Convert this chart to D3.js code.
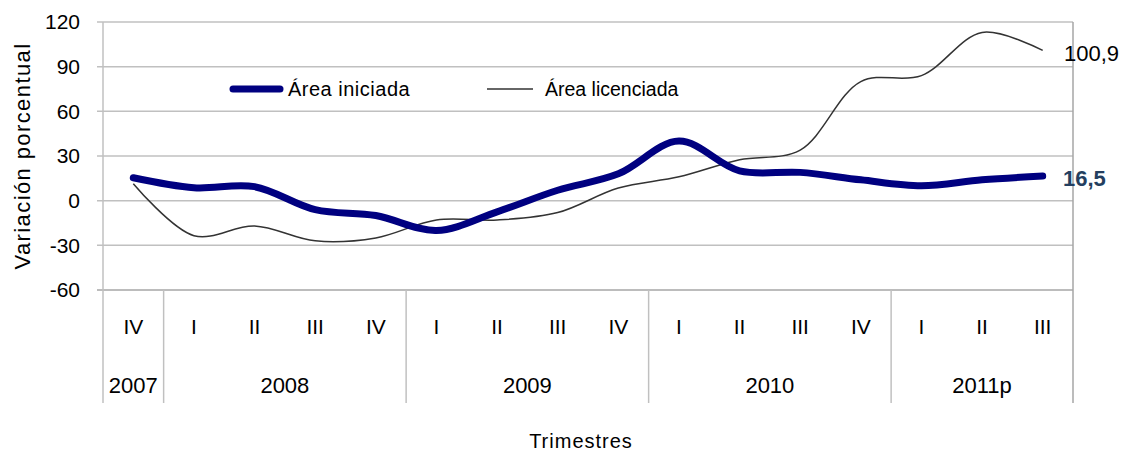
<!DOCTYPE html>
<html>
<head>
<meta charset="utf-8">
<script src="https://cdn.jsdelivr.net/npm/d3@7"></script>
<style>
  body { margin: 0; background: #fff; }
  text { font-family: "Liberation Sans", Arial, sans-serif; fill: #000; }
</style>
</head>
<body>
<div id="chart"></div>
<script>
const width = 1122;
const height = 452;

// trimestres (categoria) y año al que pertenecen
const quarters = ["IV", "I", "II", "III", "IV", "I", "II", "III", "IV", "I", "II", "III", "IV", "I", "II", "III"];
const years = ["2007", "2008", "2008", "2008", "2008", "2009", "2009", "2009", "2009", "2010", "2010", "2010", "2010", "2011p", "2011p", "2011p"];

const areaIniciada = [15.4, 8.7, 9.4, -6, -10, -20, -7.5, 7, 18, 40, 20, 19, 14, 10, 14, 16.5];
const areaLicenciada = [11.4, -23.5, -17, -27, -25, -13, -13, -8, 8.5, 16, 27.5, 34, 80, 84, 113, 100.9];

const yTicks = [-60, -30, 0, 30, 60, 90, 120];

const margin = {left: 103, right: 49, top: 22, bottom: 162};
const x0 = margin.left, x1 = width - margin.right;

const x = d3.scaleBand()
    .domain(d3.range(quarters.length))
    .range([x0, x1]);

const y = d3.scaleLinear()
    .domain([-60, 120])
    .range([290, 22]);

const svg = d3.select("#chart").append("svg")
    .attr("width", width)
    .attr("height", height);

// gridlines
svg.append("g")
  .selectAll("line")
  .data(yTicks)
  .join("line")
    .attr("x1", x0 - 6)
    .attr("x2", x1)
    .attr("y1", d => y(d))
    .attr("y2", d => y(d))
    .attr("stroke", d => d === -60 ? "#a6a6a6" : "#c0c0c0")
    .attr("stroke-width", 1.5);

// y labels
svg.append("g")
  .selectAll("text")
  .data(yTicks)
  .join("text")
    .attr("x", x0 - 23)
    .attr("y", d => y(d))
    .attr("dy", "0.35em")
    .attr("text-anchor", "end")
    .attr("font-size", 21)
    .text(d => d);

// borders: left axis + right
svg.append("line")
    .attr("x1", x0).attr("x2", x0)
    .attr("y1", 22).attr("y2", 403)
    .attr("stroke", "#c0c0c0").attr("stroke-width", 1.5);
svg.append("line")
    .attr("x1", x1).attr("x2", x1)
    .attr("y1", 22).attr("y2", 403)
    .attr("stroke", "#a6a6a6").attr("stroke-width", 1.5);

// year separators
const yearGroups = d3.groups(d3.range(years.length), i => years[i]);
const seps = yearGroups.slice(0, -1).map(g => x(g[1][g[1].length - 1]) + x.bandwidth());
svg.append("g")
  .selectAll("line")
  .data(seps)
  .join("line")
    .attr("x1", d => d).attr("x2", d => d)
    .attr("y1", 290).attr("y2", 403)
    .attr("stroke", "#c0c0c0").attr("stroke-width", 1.5);

// quarter labels
svg.append("g")
  .selectAll("text")
  .data(quarters)
  .join("text")
    .attr("x", (d, i) => x(i) + x.bandwidth() / 2)
    .attr("y", 327)
    .attr("dy", "0.35em")
    .attr("text-anchor", "middle")
    .attr("font-size", 21)
    .text(d => d);

// year labels
svg.append("g")
  .selectAll("text")
  .data(yearGroups)
  .join("text")
    .attr("x", g => (x(g[1][0]) + x(g[1][g[1].length - 1]) + x.bandwidth()) / 2)
    .attr("y", 385)
    .attr("dy", "0.35em")
    .attr("text-anchor", "middle")
    .attr("font-size", 22)
    .text(g => g[0]);

// axis titles
svg.append("text")
    .attr("x", 581).attr("y", 441)
    .attr("dy", "0.35em")
    .attr("text-anchor", "middle")
    .attr("font-size", 20)
    .attr("letter-spacing", 1)
    .text("Trimestres");
svg.append("text")
    .attr("transform", "translate(22,156) rotate(-90)")
    .attr("dy", "0.35em")
    .attr("text-anchor", "middle")
    .attr("font-size", 22)
    .attr("letter-spacing", 1.4)
    .text("Variación porcentual");

// series
const line = d3.line()
    .x((d, i) => x(i) + x.bandwidth() / 2)
    .y(d => y(d))
    .curve(d3.curveCatmullRom.alpha(0.5));

svg.append("path")
    .datum(areaLicenciada)
    .attr("fill", "none")
    .attr("stroke", "#333")
    .attr("stroke-width", 1.5)
    .attr("d", line);

svg.append("path")
    .datum(areaIniciada)
    .attr("fill", "none")
    .attr("stroke", "#000080")
    .attr("stroke-width", 7)
    .attr("stroke-linecap", "round")
    .attr("stroke-linejoin", "round")
    .attr("d", line);

// end labels
const last = quarters.length - 1;
svg.append("text")
    .attr("x", x1 - 9)
    .attr("y", y(areaLicenciada[last]) + 3)
    .attr("dy", "0.35em")
    .attr("font-size", 22)
    .text(String(areaLicenciada[last]).replace(".", ","));
svg.append("text")
    .attr("x", x1 - 10)
    .attr("y", y(areaIniciada[last]) + 2)
    .attr("dy", "0.35em")
    .attr("font-size", 22)
    .attr("font-weight", "bold")
    .style("fill", "#243f60")
    .text(String(areaIniciada[last]).replace(".", ","));

// legend
const legend = svg.append("g");
legend.append("line")
    .attr("x1", 233).attr("x2", 280)
    .attr("y1", 89).attr("y2", 89)
    .attr("stroke", "#000080").attr("stroke-width", 7)
    .attr("stroke-linecap", "round");
legend.append("text")
    .attr("x", 288).attr("y", 89)
    .attr("dy", "0.35em")
    .attr("font-size", 20)
    .attr("letter-spacing", 0.5)
    .text("Área iniciada");
legend.append("line")
    .attr("x1", 487).attr("x2", 533)
    .attr("y1", 89).attr("y2", 89)
    .attr("stroke", "#333").attr("stroke-width", 1.5);
legend.append("text")
    .attr("x", 545).attr("y", 89)
    .attr("dy", "0.35em")
    .attr("font-size", 19.5)
    .text("Área licenciada");
</script>
</body>
</html>
